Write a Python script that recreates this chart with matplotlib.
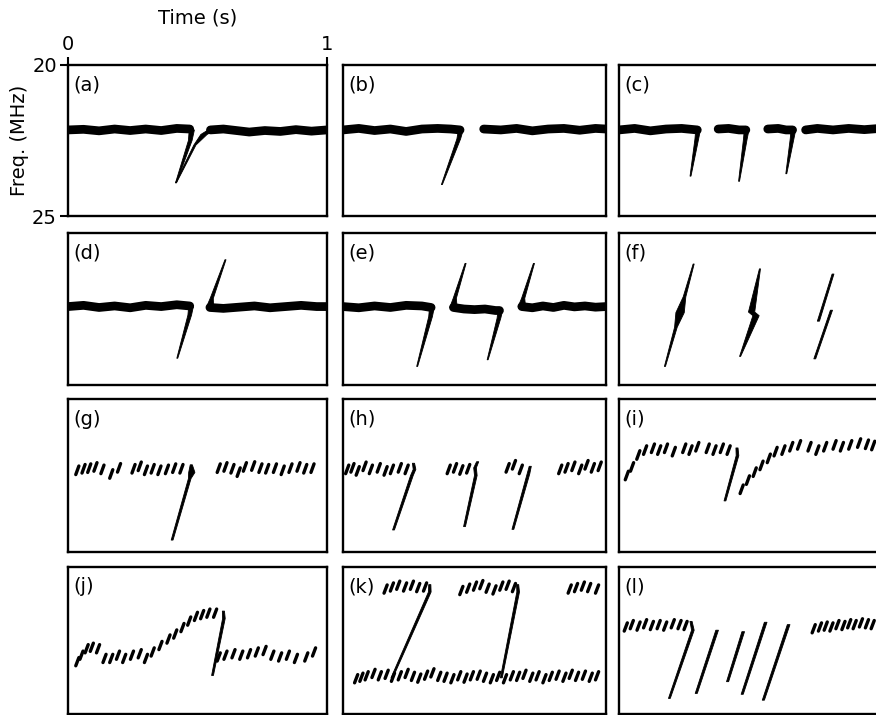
import matplotlib
matplotlib.use('Agg')
import matplotlib.pyplot as plt

# ---------------------------------------------------------------------------
# Data: time in s (0..1), frequency in MHz (20 top, 25 bottom)
# ---------------------------------------------------------------------------
PANEL_LABELS = ['(a)', '(b)', '(c)', '(d)', '(e)', '(f)',
                '(g)', '(h)', '(i)', '(j)', '(k)', '(l)']
TIME_TICKS = [0, 1]
FREQ_TICKS = [20, 25]

# continuous (L-burst) bands: (times, freqs) of the band centre line
A_BANDS = [([0, 0.06, 0.12, 0.18, 0.24, 0.30, 0.36, 0.42, 0.47],
            [22.15, 22.13, 22.18, 22.12, 22.17, 22.12, 22.17, 22.10, 22.12]),
           ([0.55, 0.60, 0.65, 0.70, 0.76, 0.82, 0.88, 0.94, 1.0],
            [22.15, 22.12, 22.17, 22.22, 22.17, 22.20, 22.14, 22.19, 22.15])]
B_BANDS = [([0, 0.06, 0.12, 0.18, 0.24, 0.30, 0.36, 0.41, 0.445],
            [22.15, 22.10, 22.17, 22.12, 22.20, 22.12, 22.10, 22.12, 22.15]),
           ([0.535, 0.60, 0.66, 0.72, 0.78, 0.84, 0.90, 0.96, 1.0],
            [22.12, 22.15, 22.10, 22.18, 22.12, 22.10, 22.16, 22.10, 22.12])]
C_BANDS = [([0, 0.06, 0.12, 0.18, 0.24, 0.30],
            [22.15, 22.10, 22.18, 22.12, 22.10, 22.15]),
           ([0.38, 0.42, 0.46, 0.486], [22.12, 22.10, 22.15, 22.15]),
           ([0.57, 0.61, 0.64, 0.665], [22.12, 22.10, 22.15, 22.15]),
           ([0.715, 0.76, 0.82, 0.88, 0.94, 1.0],
            [22.15, 22.10, 22.15, 22.10, 22.14, 22.10])]
D_BANDS = [([0, 0.06, 0.12, 0.18, 0.24, 0.30, 0.36, 0.42, 0.47],
            [22.42, 22.38, 22.45, 22.40, 22.46, 22.38, 22.42, 22.36, 22.40]),
           ([0.548, 0.60, 0.66, 0.72, 0.78, 0.84, 0.90, 0.96, 1.0],
            [22.45, 22.48, 22.44, 22.40, 22.46, 22.42, 22.38, 22.42, 22.42])]
E_BANDS = [([0, 0.06, 0.12, 0.18, 0.24, 0.30, 0.335],
            [22.42, 22.46, 22.40, 22.45, 22.38, 22.40, 22.45]),
           ([0.42, 0.46, 0.50, 0.54, 0.58, 0.595],
            [22.45, 22.50, 22.52, 22.50, 22.55, 22.55]),
           ([0.68, 0.72, 0.76, 0.80, 0.84, 0.88, 0.92, 0.96, 1.0],
            [22.42, 22.46, 22.40, 22.45, 22.38, 22.43, 22.40, 22.44, 22.42])]

# drifting strokes (S-bursts / hooks): (times, freqs) along the stroke
A_STROKES = [([0.478, 0.472, 0.417], [22.15, 22.50, 23.90]),
             ([0.417, 0.49, 0.525, 0.555], [23.90, 22.65, 22.30, 22.15])]
B_STROKES = [([0.448, 0.44, 0.376], [22.15, 22.45, 23.96])]
C_STROKES = [([0.303, 0.298, 0.274], [22.15, 22.45, 23.68]),
             ([0.489, 0.484, 0.46], [22.15, 22.45, 23.85]),
             ([0.668, 0.663, 0.641], [22.15, 22.45, 23.60])]
D_STROKES = [([0.475, 0.47, 0.422], [22.42, 22.70, 24.12]),
             ([0.608, 0.555, 0.548], [20.88, 22.15, 22.45])]
E_STROKES = [([0.338, 0.333, 0.282], [22.45, 22.75, 24.39]),
             ([0.466, 0.425, 0.42], [21.00, 22.15, 22.45]),
             ([0.598, 0.593, 0.55], [22.55, 22.80, 24.17]),
             ([0.726, 0.685, 0.68], [21.00, 22.15, 22.42])]
F_STROKES = [([0.176, 0.218, 0.234, 0.251, 0.286], [24.39, 23.10, 22.62, 22.10, 21.02]),
             ([0.464, 0.525, 0.508, 0.54], [24.06, 22.72, 22.60, 21.18]),
             ([0.75, 0.814], [24.14, 22.54]),
             ([0.764, 0.82], [22.90, 21.35])]
G_STROKES = [([0.476, 0.478, 0.47, 0.402], [22.15, 22.40, 22.60, 24.61])]
H_STROKES = [([0.268, 0.272, 0.262, 0.192], [22.10, 22.30, 22.50, 24.28]),
             ([0.512, 0.502, 0.505, 0.462], [22.05, 22.25, 22.50, 24.17]),
             ([0.712, 0.705, 0.646], [22.20, 22.45, 24.26])]
I_STROKES = [([0.452, 0.454, 0.406], [21.60, 21.85, 23.33])]
J_STROKES = [([0.60, 0.602, 0.558], [21.50, 21.75, 23.69])]
K_STROKES = [([0.33, 0.33, 0.186], [20.60, 20.85, 23.77]),
             ([0.664, 0.666, 0.602], [20.60, 20.85, 23.77])]
L_STROKES = [([0.276, 0.283, 0.193], [21.85, 22.15, 24.47]),
             ([0.376, 0.296], [22.15, 24.30]),
             ([0.476, 0.416], [22.20, 23.90]),
             ([0.562, 0.472], [21.88, 24.33]),
             ([0.65, 0.553], [21.96, 24.53])]

# short S-burst dashes: centre time, centre freq
G_DASH_T = [0.036, 0.060, 0.082, 0.106, 0.133, 0.167, 0.197, 0.253, 0.277, 0.301,
            0.327, 0.353, 0.382, 0.410, 0.438,
            0.582, 0.608, 0.635, 0.659, 0.683, 0.715, 0.743, 0.769, 0.799, 0.829,
            0.859, 0.890, 0.916, 0.944]
G_DASH_F = [22.33, 22.28, 22.26, 22.22, 22.30, 22.45, 22.25, 22.28, 22.20, 22.33,
            22.28, 22.33, 22.30, 22.26, 22.28,
            22.26, 22.22, 22.28, 22.39, 22.22, 22.19, 22.26, 22.28, 22.26, 22.33,
            22.26, 22.22, 22.28, 22.26]
H_DASH_T = [0.016, 0.036, 0.056, 0.082, 0.106, 0.136, 0.162, 0.186, 0.216, 0.242,
            0.402, 0.426, 0.450, 0.476,
            0.626, 0.650, 0.676,
            0.826, 0.850, 0.876, 0.902, 0.926, 0.950, 0.976]
H_DASH_F = [22.30, 22.25, 22.35, 22.20, 22.30, 22.25, 22.35, 22.30, 22.25, 22.30,
            22.30, 22.25, 22.32, 22.28,
            22.25, 22.15, 22.30,
            22.30, 22.25, 22.20, 22.30, 22.15, 22.25, 22.20]
I_DASH_T = [0.030, 0.050, 0.074, 0.100, 0.130, 0.154, 0.180, 0.210, 0.250, 0.274,
            0.300, 0.340, 0.366, 0.394, 0.420,
            0.470, 0.494, 0.520, 0.546, 0.574, 0.600, 0.630, 0.660, 0.690, 0.730,
            0.760, 0.790, 0.826, 0.854, 0.886, 0.920, 0.950, 0.974]
I_DASH_F = [22.50, 22.22, 21.83, 21.67, 21.61, 21.67, 21.61, 21.72, 21.61, 21.67,
            21.56, 21.61, 21.67, 21.61, 21.67,
            22.95, 22.65, 22.39, 22.17, 21.94, 21.72, 21.67, 21.56, 21.50, 21.56,
            21.67, 21.56, 21.50, 21.56, 21.50, 21.44, 21.48, 21.52]
J_DASH_T = [0.036, 0.052, 0.072, 0.092, 0.116, 0.141, 0.167, 0.193, 0.217, 0.247,
            0.277, 0.301, 0.327, 0.357, 0.388, 0.414, 0.442, 0.468, 0.494, 0.518,
            0.542, 0.568,
            0.582, 0.608, 0.639, 0.669, 0.699, 0.729, 0.759, 0.789, 0.819, 0.849,
            0.880, 0.920, 0.950]
J_DASH_F = [23.22, 23.00, 22.78, 22.73, 22.78, 23.11, 23.11, 23.00, 23.11, 23.00,
            22.95, 23.11, 22.89, 22.67, 22.45, 22.28, 22.06, 21.84, 21.68, 21.62,
            21.57, 21.57,
            23.06, 23.00, 22.95, 23.00, 22.95, 22.89, 22.84, 23.00, 23.06, 23.00,
            23.11, 23.06, 22.89]
K_DASH_T = [0.162, 0.186, 0.210, 0.236, 0.262, 0.286, 0.312,
            0.450, 0.476, 0.502, 0.526, 0.550, 0.576, 0.602, 0.626, 0.650,
            0.862, 0.886, 0.912, 0.936, 0.966,
            0.050, 0.070, 0.090, 0.116, 0.140, 0.166, 0.190, 0.216, 0.242, 0.266,
            0.290, 0.316, 0.340, 0.366, 0.390, 0.416, 0.442, 0.466, 0.490, 0.516,
            0.540, 0.566, 0.590, 0.616, 0.642, 0.666, 0.690, 0.716, 0.740, 0.766,
            0.790, 0.816, 0.842, 0.866, 0.890, 0.916, 0.942, 0.966]
K_DASH_F = [20.75, 20.68, 20.62, 20.68, 20.62, 20.70, 20.68,
            20.80, 20.72, 20.65, 20.60, 20.72, 20.78, 20.65, 20.62, 20.70,
            20.75, 20.70, 20.65, 20.70, 20.75,
            23.80, 23.75, 23.70, 23.62, 23.70, 23.65, 23.75, 23.70, 23.62, 23.72,
            23.78, 23.68, 23.60, 23.72, 23.75, 23.80, 23.70, 23.78, 23.70, 23.68,
            23.75, 23.80, 23.72, 23.80, 23.70, 23.72, 23.65, 23.75, 23.70, 23.80,
            23.72, 23.68, 23.75, 23.65, 23.72, 23.68, 23.75, 23.70]
L_DASH_T = [0.026, 0.049, 0.075, 0.100, 0.126, 0.152, 0.177, 0.206, 0.232, 0.255,
            0.746, 0.770, 0.792, 0.814, 0.837, 0.860, 0.882, 0.903, 0.927, 0.950, 0.972]
L_DASH_F = [22.04, 21.96, 22.01, 21.93, 21.99, 21.96, 22.01, 21.93, 21.96, 21.99,
            22.10, 22.04, 22.01, 22.04, 21.96, 21.99, 21.93, 21.96, 21.90, 21.93, 21.96]

# ---------------------------------------------------------------------------
# Style
# ---------------------------------------------------------------------------
BAND_LW = 6.3
DASH_LW = 2.4
DASH_DT, DASH_DF = 0.006, 0.14
THIN = [0.005, 0.004]            # half-width (in s) of plain drift lines
DRIFT = [0.009, 0.007, 0.0018]   # band -> tip taper

STROKE_W = {
    'a': [[0.010, 0.007, 0.0018], [0.0018, 0.004, 0.012, 0.014]],
    'b': [DRIFT],
    'c': [DRIFT, DRIFT, DRIFT],
    'd': [DRIFT, [0.002, 0.006, 0.014]],
    'e': [DRIFT, [0.002, 0.006, 0.014], DRIFT, [0.002, 0.006, 0.014]],
    'f': [[0.002, 0.005, 0.016, 0.005, 0.002], [0.002, 0.012, 0.012, 0.002],
          [0.0035, 0.004], [0.004, 0.0035]],
    'g': [[0.004, 0.012, 0.005, 0.0035]],
    'h': [[0.004, 0.005, 0.005, 0.0035], [0.004, 0.005, 0.005, 0.0035],
          [0.004, 0.005, 0.0035]],
    'i': [[0.004, 0.005, 0.0035]],
    'j': [[0.004, 0.005, 0.0035]],
    'k': [[0.004, 0.005, 0.0035], [0.004, 0.005, 0.0035]],
    'l': [[0.004, 0.005, 0.0035], THIN, THIN, THIN, THIN],
}

PANELS = {
    'a': (A_BANDS, A_STROKES, [], []),
    'b': (B_BANDS, B_STROKES, [], []),
    'c': (C_BANDS, C_STROKES, [], []),
    'd': (D_BANDS, D_STROKES, [], []),
    'e': (E_BANDS, E_STROKES, [], []),
    'f': ([], F_STROKES, [], []),
    'g': ([], G_STROKES, G_DASH_T, G_DASH_F),
    'h': ([], H_STROKES, H_DASH_T, H_DASH_F),
    'i': ([], I_STROKES, I_DASH_T, I_DASH_F),
    'j': ([], J_STROKES, J_DASH_T, J_DASH_F),
    'k': ([], K_STROKES, K_DASH_T, K_DASH_F),
    'l': ([], L_STROKES, L_DASH_T, L_DASH_F),
}

# panel frames in pixels: left, top, width, height
COL_X = [68, 343, 619]
COL_W = [259, 263, 261]
ROW_Y = [65, 233, 399, 567]
ROW_H = [151, 152, 153, 147]
FIG_W, FIG_H = 876, 715


def stroke(ax, ts, fs, ws):
    """filled stroke along a polyline with horizontal half-widths ws"""
    left = [(t - w, f) for t, f, w in zip(ts, fs, ws)]
    right = [(t + w, f) for t, f, w in zip(ts, fs, ws)]
    poly = left + right[::-1]
    ax.fill([p[0] for p in poly], [p[1] for p in poly], color='k', lw=0.6,
            ec='k', joinstyle='round')


fig = plt.figure(figsize=(FIG_W / 100, FIG_H / 100), dpi=100)

for i, key in enumerate('abcdefghijkl'):
    r, c = divmod(i, 3)
    x0, w = COL_X[c], COL_W[c]
    y0, h = ROW_Y[r], ROW_H[r]
    ax = fig.add_axes([x0 / FIG_W, 1 - (y0 + h) / FIG_H, w / FIG_W, h / FIG_H])
    ax.set_xlim(0, 1)
    ax.set_ylim(25, 20)
    for s in ax.spines.values():
        s.set_linewidth(1.7)

    bands, strokes, dash_t, dash_f = PANELS[key]
    for bt, bf in bands:
        ax.plot(bt, bf, color='k', lw=BAND_LW, solid_capstyle='round',
                solid_joinstyle='round')
    for (st, sf), sw in zip(strokes, STROKE_W[key]):
        stroke(ax, st, sf, sw)
    for t, f in zip(dash_t, dash_f):
        ax.plot([t - DASH_DT, t + DASH_DT], [f + DASH_DF, f - DASH_DF],
                color='k', lw=DASH_LW, solid_capstyle='round')

    ax.text(0.02, 0.93, PANEL_LABELS[i], transform=ax.transAxes,
            fontsize=14, va='top', ha='left')

    if key == 'a':
        ax.xaxis.tick_top()
        ax.set_xticks(TIME_TICKS)
        ax.set_xticklabels([str(v) for v in TIME_TICKS])
        ax.set_yticks(FREQ_TICKS)
        ax.set_yticklabels([str(v) for v in FREQ_TICKS])
        ax.tick_params(direction='out', length=6, width=1.5, labelsize=14, pad=2)
        ax.xaxis.set_label_position('top')
        ax.set_xlabel('Time (s)', fontsize=14, labelpad=8)
        ax.set_ylabel('Freq. (MHz)', fontsize=14, labelpad=2)
    else:
        ax.set_xticks([])
        ax.set_yticks([])

fig.savefig('out.png', dpi=100)
